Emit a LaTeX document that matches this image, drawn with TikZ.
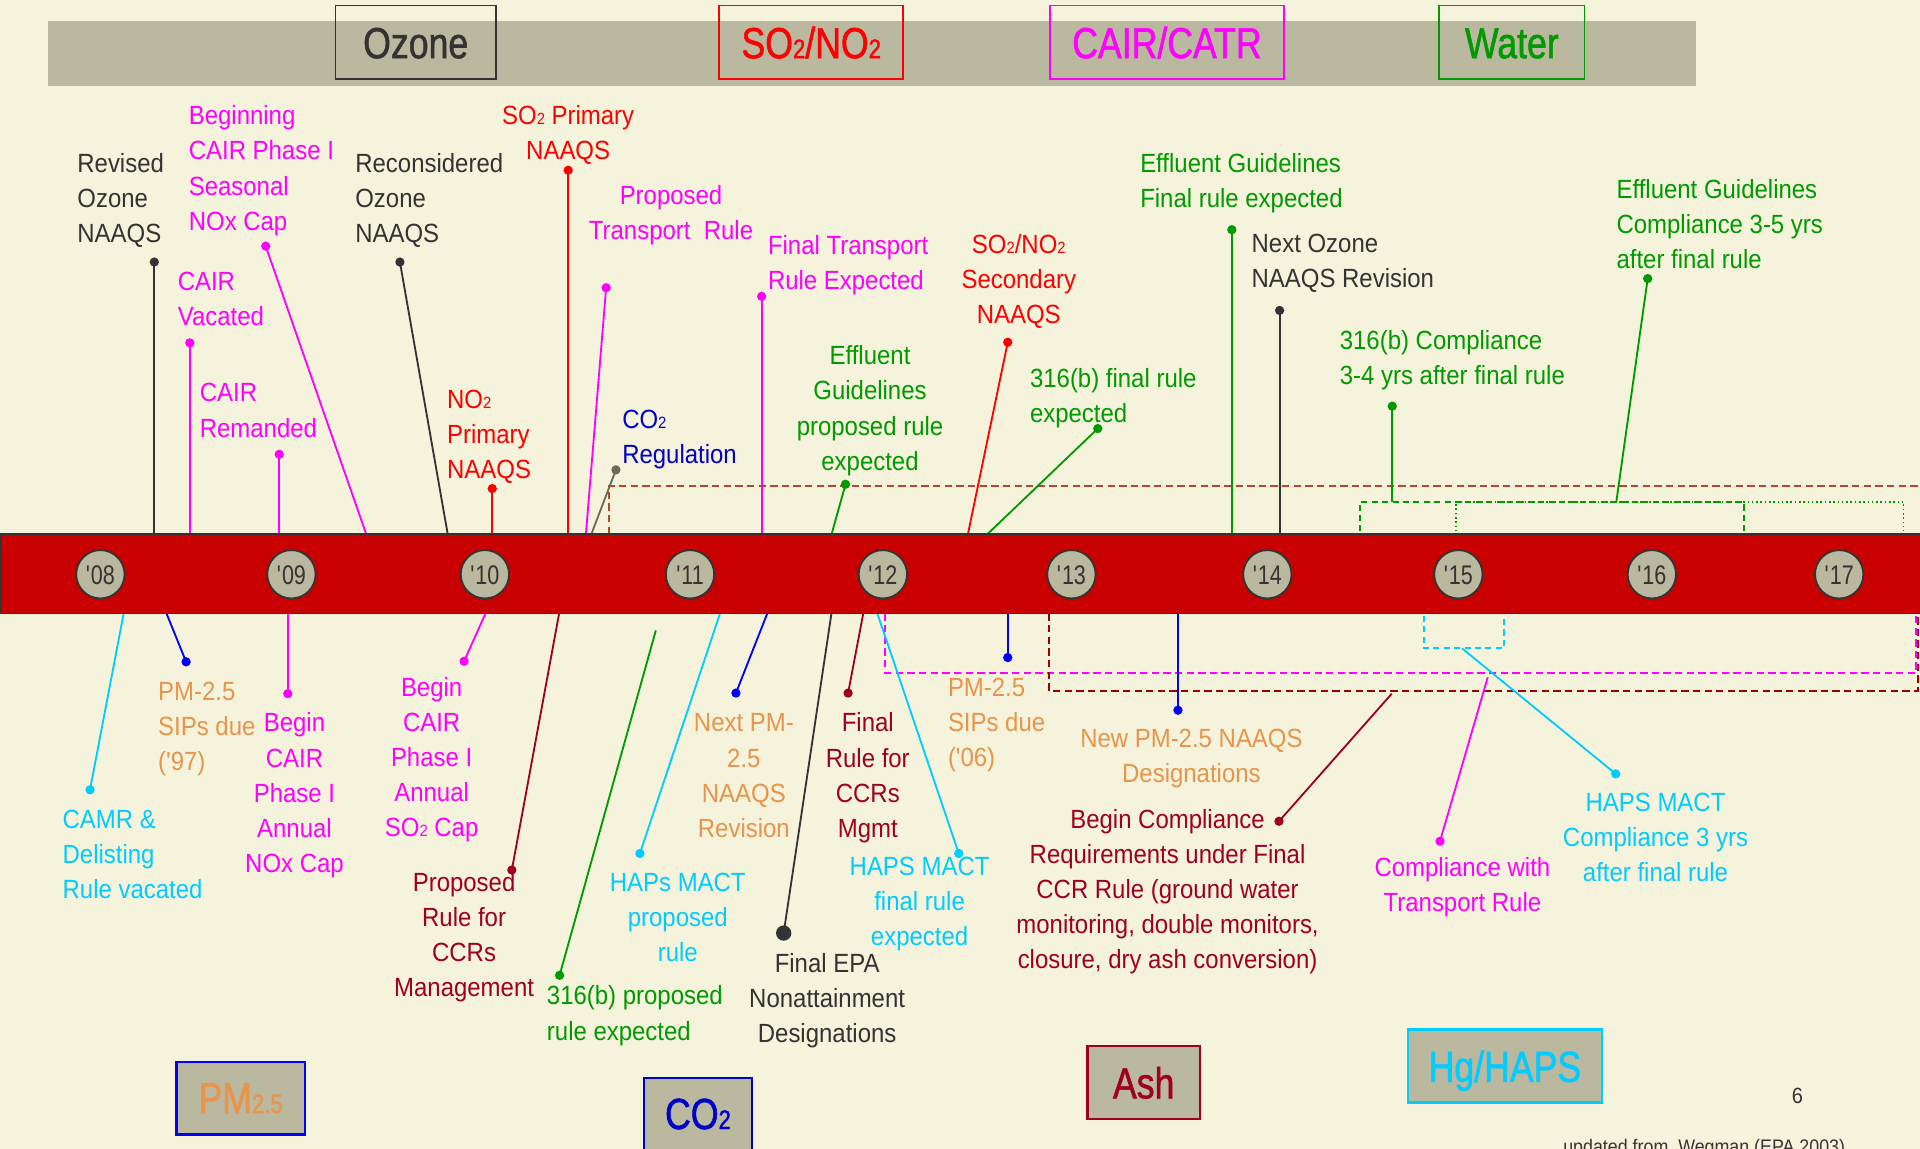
\documentclass[tikz,border=0pt]{standalone}
\usepackage{fontspec}
\setmainfont{Liberation Sans}
\newfontfamily\capf{Liberation Sans}[FakeStretch=0.91]
\newfontfamily\headf{Liberation Sans}[FakeStretch=0.82,FakeBold=1.2]
\newfontfamily\yearf{Liberation Sans}[FakeStretch=0.8]
\newcommand\lowtwo[1]{\scalebox{0.62}{#1}}
\newcommand\fstrut{\rule{0pt}{17pt}}
\definecolor{bg}{HTML}{F5F3DC}
\definecolor{band}{HTML}{BAB89F}
\definecolor{barred}{HTML}{C80000}
\definecolor{dk}{HTML}{333333}
\definecolor{mg}{HTML}{FF00FF}
\definecolor{rd}{HTML}{FF0000}
\definecolor{gr}{HTML}{009900}
\definecolor{cy}{HTML}{00CCFF}
\definecolor{bl}{HTML}{0000FF}
\definecolor{nb}{HTML}{0000CC}
\definecolor{orng}{HTML}{E8944A}
\definecolor{dr}{HTML}{A00020}
\definecolor{brn}{HTML}{B24A2A}
\definecolor{gy}{HTML}{6B6B58}
\definecolor{drd}{HTML}{990000}
\tikzset{
 lbl/.style={font=\capf\fontsize{21.5}{28.7}\selectfont, inner sep=0pt, align=left, anchor=north west},
 lblc/.style={lbl, align=center, anchor=north},
 conn/.style={line width=1.5pt},
 cdot/.style={circle, fill=#1, draw=none, inner sep=0pt, minimum size=7.6pt},
 hdrbox/.style={draw=#1, line width=1.5pt, inner sep=0pt, minimum height=60pt},
 botbox/.style={draw=#1, fill=band, line width=2pt, inner sep=0pt},
 hdrtext/.style={font=\headf\fontsize{35.5}{40}\selectfont, inner sep=0pt, anchor=base, text=#1},
 yearc/.style={circle, fill=band, draw=dk, line width=1.5pt, minimum size=39.5pt, inner sep=0pt},
 yeart/.style={font=\yearf\fontsize{22}{24}\selectfont, text=dk, inner sep=0pt, anchor=base},
 dashbox/.style={line width=1.6pt, dash pattern=on 6pt off 3.5pt},
}
\begin{document}
\begin{tikzpicture}[x=1pt,y=-1pt]
\useasboundingbox (0,0) rectangle (1568,938);
\clip (0,0) rectangle (1568,938);
\fill[bg] (0,0) rectangle (1568,938);
% top band
\fill[band] (39,17.5) rectangle (1385,70);
\node[hdrbox=dk, minimum width=131pt] (hozone) at (339.5,34.5) {};
\node[hdrbox=rd, minimum width=150.5pt] (hso2) at (662.5,34.5) {};
\node[hdrbox=mg, minimum width=191pt] (hcair) at (953,34.5) {};
\node[hdrbox=gr, minimum width=118.5pt] (hwater) at (1234.7,34.5) {};
\node[hdrtext=dk] (hozonet) at (339.5,47.5) {Ozone};
\node[hdrtext=rd] (hso2t) at (662.5,47.5) {SO\lowtwo{2}/NO\lowtwo{2}};
\node[hdrtext=mg] (hcairt) at (953,47.5) {CAIR/CATR};
\node[hdrtext=gr] (hwatert) at (1234.7,47.5) {Water};

% dashed ranges
\draw[dashbox, brn] (497,436) -- (497,397) -- (1572,397);
\draw[dashbox, mg] (723,501) -- (723,549.5) -- (1565,549.5) -- (1565,501);
\draw[dashbox, drd] (856.5,501) -- (856.5,564) -- (1566,564) -- (1566,501);
\draw[line width=1.6pt, cy, dash pattern=on 5pt off 3.5pt] (1163,503) -- (1163,529.5) -- (1228,529.5) -- (1228,503);
\draw[line width=1.4pt, gr, dash pattern=on 5pt off 3.5pt] (1110.5,434) -- (1110.5,409.7) -- (1424,409.7) -- (1424,434);
\draw[line width=1.4pt, gr, dash pattern=on 1.3pt off 2.2pt] (1189,434) -- (1189,409.7) -- (1554.5,409.7) -- (1554.5,434);

% upper connectors
\node[cdot=dk] (u1d) at (126,214) {};
\coordinate (u1b) at (126,436);
\draw[conn, dk] (u1b) -- (u1d.center);
\node[cdot=mg] (u2d) at (217,201) {};
\coordinate (u2b) at (299,436);
\draw[conn, mg] (u2b) -- (u2d.center);
\node[cdot=mg] (u3d) at (155,280) {};
\coordinate (u3b) at (155,436);
\draw[conn, mg] (u3b) -- (u3d.center);
\node[cdot=mg] (u4d) at (228,371) {};
\coordinate (u4b) at (228,436);
\draw[conn, mg] (u4b) -- (u4d.center);
\node[cdot=dk] (u5d) at (326.6,214) {};
\coordinate (u5b) at (365.6,436);
\draw[conn, dk] (u5b) -- (u5d.center);
\node[cdot=rd] (u6d) at (464,139) {};
\coordinate (u6b) at (464,436);
\draw[conn, rd] (u6b) -- (u6d.center);
\node[cdot=rd] (u7d) at (402,399) {};
\coordinate (u7b) at (402,436);
\draw[conn, rd] (u7b) -- (u7d.center);
\node[cdot=mg] (u8d) at (495,235) {};
\coordinate (u8b) at (478.5,436);
\draw[conn, mg] (u8b) -- (u8d.center);
\node[cdot=gy] (u9d) at (503,383.7) {};
\coordinate (u9b) at (483,436);
\draw[conn, gy] (u9b) -- (u9d.center);
\node[cdot=mg] (u10d) at (622,242) {};
\coordinate (u10b) at (622,436);
\draw[conn, mg] (u10b) -- (u10d.center);
\node[cdot=gr] (u11d) at (690.5,395.5) {};
\coordinate (u11b) at (679.2,436);
\draw[conn, gr] (u11b) -- (u11d.center);
\node[cdot=rd] (u12d) at (823,279.5) {};
\coordinate (u12b) at (790.5,436);
\draw[conn, rd] (u12b) -- (u12d.center);
\node[cdot=gr] (u13d) at (896.5,350) {};
\coordinate (u13b) at (806.6,436);
\draw[conn, gr] (u13b) -- (u13d.center);
\node[cdot=gr] (u14d) at (1006,187.6) {};
\coordinate (u14b) at (1006,436);
\draw[conn, gr] (u14b) -- (u14d.center);
\node[cdot=dk] (u15d) at (1045,253.5) {};
\coordinate (u15b) at (1045,436);
\draw[conn, dk] (u15b) -- (u15d.center);
\node[cdot=gr] (u16d) at (1137,331.7) {};
\coordinate (u16b) at (1137,409.7);
\draw[conn, gr] (u16b) -- (u16d.center);
\node[cdot=gr] (u17d) at (1345.6,227.5) {};
\coordinate (u17b) at (1320,409.7);
\draw[conn, gr] (u17b) -- (u17d.center);

% lower connectors
\node[cdot=cy] (l1d) at (73.5,645) {};
\coordinate (l1b) at (101,501);
\draw[conn, cy] (l1b) -- (l1d.center);
\node[cdot=bl] (l2d) at (152,540.5) {};
\coordinate (l2b) at (136,501);
\draw[conn, bl] (l2b) -- (l2d.center);
\node[cdot=mg] (l3d) at (235,566.5) {};
\coordinate (l3b) at (235,501);
\draw[conn, mg] (l3b) -- (l3d.center);
\node[cdot=mg] (l4d) at (379,540) {};
\coordinate (l4b) at (396.5,501);
\draw[conn, mg] (l4b) -- (l4d.center);
\node[cdot=dr] (l5d) at (418,710.5) {};
\coordinate (l5b) at (456.6,501);
\draw[conn, dr] (l5b) -- (l5d.center);
\node[cdot=gr] (l6d) at (457,796.5) {};
\coordinate (l6b) at (535.6,514.8);
\draw[conn, gr] (l6b) -- (l6d.center);
\node[cdot=cy] (l7d) at (522.6,697) {};
\coordinate (l7b) at (588,501);
\draw[conn, cy] (l7b) -- (l7d.center);
\node[cdot=bl] (l8d) at (601,566) {};
\coordinate (l8b) at (626.6,501);
\draw[conn, bl] (l8b) -- (l8d.center);
\node[cdot=dk, minimum size=12.5pt] (l9d) at (640,762) {};
\coordinate (l9b) at (679,501);
\draw[conn, dk] (l9b) -- (l9d.center);
\node[cdot=dr] (l10d) at (692.6,566) {};
\coordinate (l10b) at (705,501);
\draw[conn, dr] (l10b) -- (l10d.center);
\node[cdot=cy] (l11d) at (783,697) {};
\coordinate (l11b) at (716.5,501);
\draw[conn, cy] (l11b) -- (l11d.center);
\node[cdot=bl] (l12d) at (823,537) {};
\coordinate (l12b) at (823,501);
\draw[conn, bl] (l12b) -- (l12d.center);
\node[cdot=bl] (l13d) at (962,580) {};
\coordinate (l13b) at (962,501);
\draw[conn, bl] (l13b) -- (l13d.center);
\node[cdot=dr] (l14d) at (1044.5,670.7) {};
\coordinate (l14b) at (1136.6,566.5);
\draw[conn, dr] (l14b) -- (l14d.center);
\node[cdot=mg] (l15d) at (1176,687) {};
\coordinate (l15b) at (1215,553);
\draw[conn, mg] (l15b) -- (l15d.center);
\node[cdot=cy] (l16d) at (1319.5,632) {};
\coordinate (l16b) at (1194,529.5);
\draw[conn, cy] (l16b) -- (l16d.center);

% timeline bar
\draw[fill=barred, draw=dk, line width=1.5pt] (0.75,436) rectangle (1575,501);
\foreach \yr/\cx in {08/82,09/238,10/396,11/563.5,12/721,13/875,14/1035,15/1191,16/1349,17/1502}{
  \node[yearc] (y\yr) at (\cx,469) {};
  \node[yeart] (y\yr t) at (\cx,477.5) {\textquotesingle\yr};
}

% upper labels
\node[lbl, text=dk] (u1t) at (63,123.7) {\fstrut Revised\\Ozone\\NAAQS};
\node[lbl, text=mg] (u2t) at (154,84.7) {\fstrut Beginning\\CAIR Phase I\\Seasonal\\NOx Cap};
\node[lbl, text=mg] (u3t) at (145,219.7) {\fstrut CAIR\\Vacated};
\node[lbl, text=mg] (u4t) at (163,311) {\fstrut CAIR\\Remanded};
\node[lbl, text=dk] (u5t) at (290,123.7) {\fstrut Reconsidered\\Ozone\\NAAQS};
\node[lblc, text=rd] (u6t) at (464,84.7) {\fstrut SO\lowtwo{2} Primary\\NAAQS};
\node[lbl, text=rd] (u7t) at (365,316.5) {\fstrut NO\lowtwo{2}\\Primary\\NAAQS};
\node[lblc, text=mg] (u8t) at (548,149.7) {\fstrut Proposed\\Transport\ \ Rule};
\node[lbl, text=nb] (u9t) at (508,332.5) {\fstrut CO\lowtwo{2}\\Regulation};
\node[lbl, text=mg] (u10t) at (627,190.7) {\fstrut Final Transport\\Rule Expected};
\node[lblc, text=gr] (u11t) at (710.5,280.7) {\fstrut Effluent\\Guidelines\\proposed rule\\expected};
\node[lblc, text=rd] (u12t) at (832,189.5) {\fstrut SO\lowtwo{2}/NO\lowtwo{2}\\Secondary\\NAAQS};
\node[lbl, text=gr] (u13t) at (841,299) {\fstrut 316(b) final rule\\expected};
\node[lbl, text=gr] (u14t) at (931,123.5) {\fstrut Effluent Guidelines\\Final rule expected};
\node[lbl, text=dk] (u15t) at (1022,189) {\fstrut Next Ozone\\NAAQS Revision};
\node[lbl, text=gr] (u16t) at (1094,268) {\fstrut 316(b) Compliance\\3-4 yrs after final rule};
\node[lbl, text=gr] (u17t) at (1320,145) {\fstrut Effluent Guidelines\\Compliance 3-5 yrs\\after final rule};

% lower labels
\node[lbl, text=cy] (l1t) at (51,659) {\fstrut CAMR \&\\Delisting\\Rule vacated};
\node[lbl, text=orng] (l2t) at (129,554.5) {\fstrut PM-2.5\\SIPs due\\('97)};
\node[lblc, text=mg] (l3t) at (240.5,580.5) {\fstrut Begin\\CAIR\\Phase I\\Annual\\NOx Cap};
\node[lblc, text=mg] (l4t) at (352.5,551.5) {\fstrut Begin\\CAIR\\Phase I\\Annual\\SO\lowtwo{2} Cap};
\node[lblc, text=dr] (l5t) at (379,710.5) {\fstrut Proposed\\Rule for\\CCRs\\Management};
\node[lbl, text=gr] (l6t) at (446.5,803.5) {\fstrut 316(b) proposed\\rule expected};
\node[lblc, text=cy] (l7t) at (553.5,710.5) {\fstrut HAPs MACT\\proposed\\rule};
\node[lblc, text=orng] (l8t) at (607.5,580.5) {\fstrut Next PM-\\2.5\\NAAQS\\Revision};
\node[lblc, text=dk] (l9t) at (675.5,776.7) {\fstrut Final EPA\\Nonattainment\\Designations};
\node[lblc, text=dr] (l10t) at (708.7,580.5) {\fstrut Final\\Rule for\\CCRs\\Mgmt};
\node[lblc, text=cy] (l11t) at (751,697.6) {\fstrut HAPS MACT\\final rule\\expected};
\node[lbl, text=orng] (l12t) at (774,551.5) {\fstrut PM-2.5\\SIPs due\\('06)};
\node[lblc, text=orng] (l13t) at (973,593) {\fstrut New PM-2.5 NAAQS\\Designations};
\node[lblc, text=dr] (l14t) at (953.5,659) {\fstrut Begin Compliance\\Requirements under Final\\CCR Rule (ground water\\monitoring, double monitors,\\closure, dry ash conversion)};
\node[lblc, text=mg] (l15t) at (1194.3,698.5) {\fstrut Compliance with\\Transport Rule};
\node[lblc, text=cy] (l16t) at (1352,645.4) {\fstrut HAPS MACT\\Compliance 3 yrs\\after final rule};

% bottom category boxes
\node[botbox=bl, minimum width=105pt, minimum height=59pt] (bpm) at (196.5,897) {};
\node[hdrtext=orng] (bpmt) at (196.5,909) {PM\lowtwo{2.5}};
\node[botbox=nb, minimum width=88pt, minimum height=66pt] (bco) at (570,913.5) {};
\node[hdrtext=nb] (bcot) at (570,922) {CO\lowtwo{2}};
\node[botbox=dr, minimum width=92pt, minimum height=59.5pt] (bash) at (934,884) {};
\node[hdrtext=dr] (basht) at (934,897) {Ash};
\node[botbox=cy, minimum width=158.5pt, minimum height=59.5pt] (bhg) at (1229,870.5) {};
\node[hdrtext=cy] (bhgt) at (1229,883.5) {Hg/HAPS};

% page number and source
\node[font=\capf\fontsize{18}{20}\selectfont, text=dk, inner sep=0pt, anchor=base] (pgno) at (1468,901) {6};
\node[font=\capf\fontsize{16}{18}\selectfont, text=dk, inner sep=0pt, anchor=base west] (src) at (1276.5,942) {updated from\ \ Wegman (EPA 2003)};
\end{tikzpicture}
\end{document}
